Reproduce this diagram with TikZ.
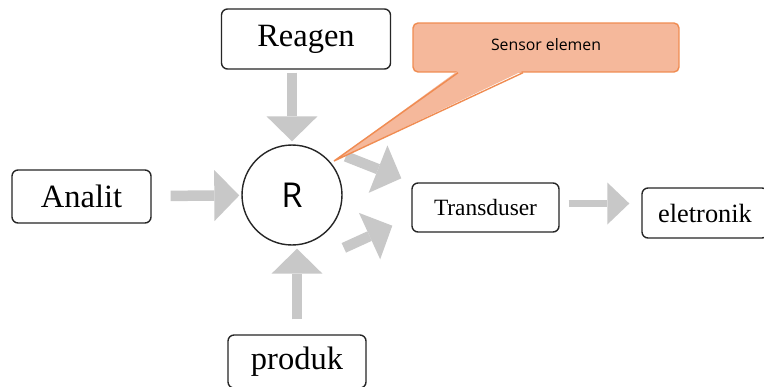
\documentclass[tikz,border=0pt]{standalone}
\usepackage{fontspec}
\setmainfont{Liberation Serif}
\newfontfamily\opensans{Open Sans}
\usetikzlibrary{arrows.meta}
\usetikzlibrary{positioning}
\definecolor{callfill}{RGB}{245,184,155}
\definecolor{callline}{RGB}{240,140,82}
\definecolor{arrgray}{RGB}{200,200,200}

\begin{document}
\begin{tikzpicture}[x=0.02cm,y=-0.02cm,
	box/.style={draw=black!85,line width=0.8pt,rounded corners=0.12cm,inner sep=0pt},
	big/.style={font=\fontsize{18.5}{20}\selectfont},
	blockarr/.style={draw=arrgray,line width=0.21cm,-{Triangle[length=0.5cm,width=1.02cm,line width=0pt]}},
	smallarr/.style={draw=arrgray,line width=0.14cm,-{Triangle[length=0.44cm,width=0.84cm,line width=0pt]}}]
			\fill[white] (0,0) rectangle (764,386);
			\useasboundingbox (0,0) rectangle (764,386);
			\node[box,big,minimum width=3.38cm,minimum height=1.2cm] (reagen) at (306,39) {Reagen};
			\node[box,big,minimum width=2.78cm,minimum height=1.06cm] (analit) at (81.5,196.5) {Analit};
			\node[box,big,minimum width=2.76cm,minimum height=1.06cm] (produk) at (297,361.5) {produk};
			\node[box,font=\fontsize{13.3}{15}\selectfont,minimum width=2.94cm,minimum height=0.98cm] (trans) at (485.5,207.5) {Transduser};
			\node[box,font=\fontsize{15}{17}\selectfont,minimum width=2.52cm,minimum height=1cm] (elet) at (705,213) {eletronik};
			\node[circle,draw=black!85,line width=0.8pt,minimum size=2cm,inner sep=0pt,font=\opensans\fontsize{19.5}{22}\selectfont] (R) at (292,195) {R};
			% gray block arrows
			\draw[blockarr,shorten <=0.06cm,shorten >=0.06cm] (R.north |- reagen.south) -- (R.north);
			\draw[blockarr,shorten <=0.38cm,shorten >=0.04cm] (analit) -- (R);
			\draw[blockarr,shorten <=0.3cm,shorten >=0.06cm] (produk.north) -- (produk.north |- R.south);
			\draw[blockarr] ([shift={(15,-6)}]R.40) -- ([shift={(-10,-4)}]trans.north west);
			\draw[blockarr] ([shift={(16,17)}]R.-45) -- ([shift={(-19,-7)}]trans.south west);
			\draw[smallarr,shorten <=0.18cm,shorten >=0.24cm] ([yshift=0.08cm]trans.east) -- ([yshift=0.08cm]trans.east -| elet.west);
			% callout
			\node[draw=callline,fill=callfill,line width=0.8pt,rounded corners=0.1cm,minimum width=5.32cm,minimum height=0.98cm,text depth=0.14cm,font=\opensans\fontsize{9}{11}\selectfont] (sensor) at (546,47.5) {Sensor elemen};
			\coordinate (ptr) at (334,161);
			\fill[callfill] ([xshift=-1.76cm,yshift=0.04cm]sensor.south) -- (ptr) -- ([xshift=-0.46cm,yshift=0.04cm]sensor.south) -- cycle;
			\draw[callline,line width=0.8pt] ([xshift=-1.76cm]sensor.south) -- (ptr) -- ([xshift=-0.46cm]sensor.south);
		\end{tikzpicture}
\end{document}
